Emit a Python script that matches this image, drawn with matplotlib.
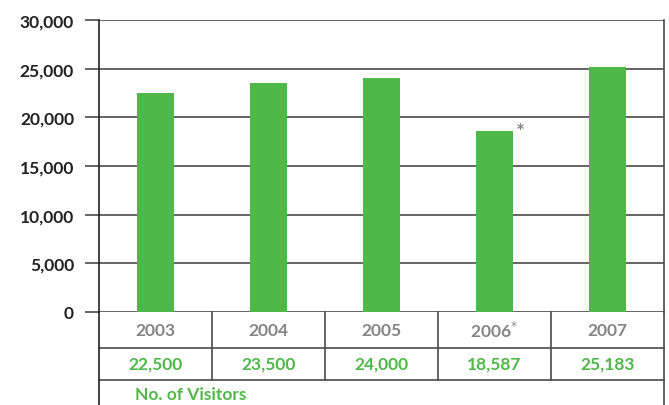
import matplotlib.pyplot as plt
from matplotlib.ticker import FuncFormatter

plt.rcParams['font.family'] = ['Lato', 'DejaVu Sans']

years = ['2003', '2004', '2005', '2006', '2007']
year_labels = ['2003', '2004', '2005', '2006$^{*}$', '2007']
visitors = [22500, 23500, 24000, 18587, 25183]
yticks = [0, 5000, 10000, 15000, 20000, 25000, 30000]
row_title = 'No. of Visitors'

green = '#50b848'
grey = '#858585'
line = '#4a4a4a'
fs = 12.5

W, H = 669, 406
fig = plt.figure(figsize=(W / 100, H / 100), dpi=100)

# bar area
x0, x1 = 99, 664
ytop, ybot = 21, 313
ax = fig.add_axes([x0 / W, (H - ybot) / H, (x1 - x0) / W, (ybot - ytop) / H])
xs = range(len(years))
ax.bar(xs, visitors, width=0.32, color=green, zorder=3)
ax.set_xlim(-0.5, len(years) - 0.5)
ax.set_ylim(0, 30000)
ax.set_yticks(yticks)
ax.yaxis.set_major_formatter(FuncFormatter(lambda v, p: '{:,.0f}'.format(v)))
ax.set_xticks([])
ax.tick_params(axis='y', length=10, width=1.2, color=line, pad=8,
               labelsize=fs)
for lab in ax.get_yticklabels():
    lab.set_fontweight('bold')
    lab.set_color('#222222')
ax.grid(axis='y', color=line, linewidth=1.2, zorder=0)
for s in ['top', 'bottom']:
    ax.spines[s].set_visible(False)
ax.spines['left'].set_color('#222222')
ax.spines['right'].set_color(line)
ax.spines['left'].set_linewidth(1.2)
ax.spines['right'].set_linewidth(1.2)

# asterisk next to the 2006 bar
ax.text(3 + 0.185, visitors[3] - 50, '*', color=grey, fontsize=15,
        fontweight='bold', ha='left', va='center')

# table under the bars
tax = fig.add_axes([x0 / W, 0, (x1 - x0) / W, (H - ybot) / H])
tax.set_xlim(-0.5, len(years) - 0.5)
tax.set_ylim(H - ybot, 0)
tax.axis('off')
r1, r2, r3 = 36, 68, H - ybot
kw = dict(color=line, linewidth=1.2, clip_on=False)
tax.plot([-0.5, len(years) - 0.5], [r1, r1], **kw)
tax.plot([-0.5, len(years) - 0.5], [r2, r2], **kw)
tax.plot([-0.5, -0.5], [0, r3], color='#222222', linewidth=1.2, clip_on=False)
tax.plot([len(years) - 0.5] * 2, [0, r3], **kw)
for i in range(1, len(years)):
    tax.plot([i - 0.5, i - 0.5], [0, r2], **kw)
for i, (lab, v) in enumerate(zip(year_labels, visitors)):
    tax.text(i, r1 / 2, lab, ha='center', va='center', color=grey,
             fontsize=fs, fontweight='bold')
    tax.text(i, (r1 + r2) / 2, '{:,}'.format(v), ha='center', va='center',
             color=green, fontsize=fs, fontweight='bold')
tax.text(-0.18, (r2 + r3) / 2 + 2, row_title, ha='left', va='center',
         color=green, fontsize=fs, fontweight='bold')

fig.savefig('out.png', dpi=100)
